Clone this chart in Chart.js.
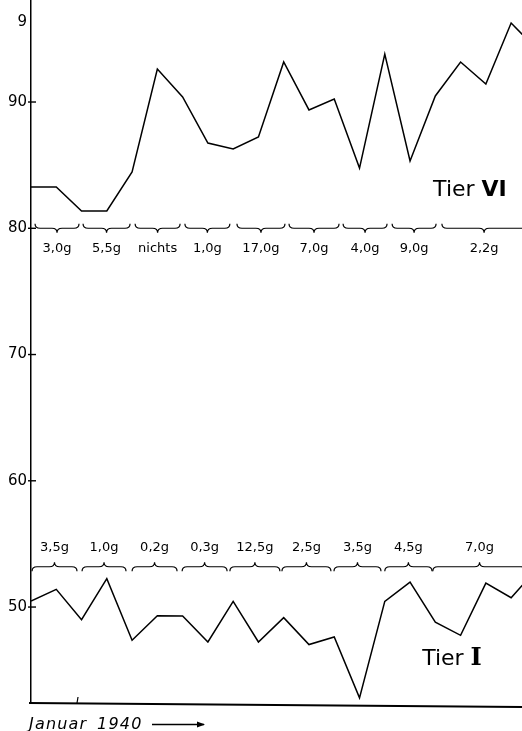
<!DOCTYPE html>
<html>
<head>
<meta charset="utf-8">
<script src="https://cdn.jsdelivr.net/npm/chart.js@4/dist/chart.umd.min.js"></script>
<style>
html,body{margin:0;padding:0;background:#fff;}
canvas{display:block;}
</style>
</head>
<body>
<canvas id="c" width="522" height="731"></canvas>
<script>
// ---- data ----
const days = [0,1,2,3,4,5,6,7,8,9,10,11,12,13,14,15,16,17,18,19,20];
const tierVI = [83.27,83.27,81.37,81.37,84.46,92.61,90.40,86.75,86.28,87.23,93.17,89.37,90.24,84.77,93.80,85.33,90.48,93.17,91.43,96.26,94.2];
const tierI  = [50.47,51.40,49.00,52.25,47.37,49.32,49.29,47.23,50.45,47.23,49.16,47.03,47.63,42.81,50.45,51.98,48.81,47.76,51.90,50.74,52.98];

const tickValues = [50,60,70,80,90,96.34];
const tickLabels = ['50','60','70','80','90','9'];
const tickMarks  = [50,60,70,80,90];

// feeding periods (x from, x to) and amounts
const dosesVIStart = [0.16,2.06,4.12,6.09,8.15,10.21,12.35,14.29,16.26];
const dosesVIEnd   = [1.90,3.92,5.90,7.87,10.05,12.19,14.09,16.03,19.6];
const dosesVILabel = ['3,0g','5,5g','nichts','1,0g','17,0g','7,0g','4,0g','9,0g','2,2g'];
const dosesIStart  = [0.04,2.02,4.00,5.98,7.87,9.93,11.99,14.00,15.90];
const dosesIEnd    = [1.82,3.76,5.78,7.76,9.85,11.87,13.85,15.87,19.6];
const dosesILabel  = ['3,5g','1,0g','0,2g','0,3g','12,5g','2,5g','3,5g','4,5g','7,0g'];

const seriesNames = ['Tier VI','Tier I'];
const xAxisLabel = ['Januar','1940'];

// ---- layout (in data units) ----
const braceVI = {y: 80.0, labelY: 78.4, dir: 1};   // tip pointing down
const braceI  = {y: 53.19, labelY: 54.67, dir: -1}; // tip pointing up
const nameVIPos = {x: 17.37, y: 83.03};
const nameIPos  = {x: 16.66, y: 45.88};
const xTickMark = 1.86;

function brace(ctx, x0, x1, y, dir){
  const r = 5, h = 4.5;
  const xc = (x0 + x1) / 2;
  ctx.beginPath();
  ctx.moveTo(x0, y - dir*h);
  ctx.quadraticCurveTo(x0, y, x0 + r, y);
  ctx.lineTo(xc - r, y);
  ctx.quadraticCurveTo(xc, y, xc, y + dir*h);
  ctx.quadraticCurveTo(xc, y, xc + r, y);
  ctx.lineTo(x1 - r, y);
  ctx.quadraticCurveTo(x1, y, x1, y - dir*h);
  ctx.stroke();
}

const decor = {
  id: 'decor',
  afterDraw(chart){
    const ctx = chart.ctx;
    const xs = chart.scales.x, ys = chart.scales.y;
    const area = chart.chartArea;
    ctx.save();
    ctx.strokeStyle = '#000';
    ctx.fillStyle = '#000';
    ctx.lineWidth = 1.4;
    // y tick marks crossing the axis
    tickMarks.forEach(v => {
      const py = ys.getPixelForValue(v);
      ctx.beginPath();
      ctx.moveTo(area.left - 3, py);
      ctx.lineTo(area.left + 5, py);
      ctx.stroke();
    });
    // bottom axis
    ctx.lineWidth = 1.8;
    ctx.beginPath();
    ctx.moveTo(area.left - 2, area.bottom);
    ctx.lineTo(area.right, area.bottom + 4);
    ctx.stroke();
    ctx.lineWidth = 1.2;
    const tx = xs.getPixelForValue(xTickMark);
    ctx.beginPath();
    ctx.moveTo(tx - 1, area.bottom);
    ctx.lineTo(tx, area.bottom - 6);
    ctx.stroke();
    // braces + labels
    ctx.lineWidth = 1.2;
    ctx.font = '13px "DejaVu Sans"';
    ctx.textAlign = 'center';
    ctx.textBaseline = 'middle';
    const drawSet = (starts, ends, labels, b) => {
      const py = ys.getPixelForValue(b.y);
      const ly = ys.getPixelForValue(b.labelY);
      starts.forEach((s, i) => {
        const x0 = xs.getPixelForValue(s), x1 = xs.getPixelForValue(ends[i]);
        brace(ctx, x0, x1, py, b.dir);
        ctx.fillText(labels[i], (x0 + x1) / 2, ly);
      });
    };
    drawSet(dosesVIStart, dosesVIEnd, dosesVILabel, braceVI);
    drawSet(dosesIStart, dosesIEnd, dosesILabel, braceI);

    // series names
    ctx.textBaseline = 'middle';
    ctx.textAlign = 'left';
    const drawName = (name, pos, boldFont) => {
      const parts = name.split(' ');
      const px = xs.getPixelForValue(pos.x), py = ys.getPixelForValue(pos.y);
      ctx.font = '22px "DejaVu Sans"';
      const w1 = ctx.measureText(parts[0] + ' ').width;
      ctx.font = boldFont;
      const w2 = ctx.measureText(parts[1]).width;
      const start = px - (w1 + w2) / 2;
      ctx.font = '22px "DejaVu Sans"';
      ctx.fillText(parts[0] + ' ', start, py);
      ctx.font = boldFont;
      ctx.fillText(parts[1], start + w1, py);
    };
    drawName(seriesNames[0], nameVIPos, 'bold 22px "DejaVu Sans"');
    drawName(seriesNames[1], nameIPos, 'bold 24px "DejaVu Serif"');

    // x axis caption with arrow
    ctx.font = 'italic 16px "DejaVu Sans"';
    ctx.textAlign = 'left';
    ctx.textBaseline = 'alphabetic';
    try { ctx.letterSpacing = '1.2px'; } catch(e) {}
    ctx.fillText(xAxisLabel[0], 29, 729);
    ctx.fillText(xAxisLabel[1], 97, 729);
    try { ctx.letterSpacing = '0px'; } catch(e) {}
    ctx.lineWidth = 1.3;
    ctx.beginPath();
    ctx.moveTo(152, 724.5);
    ctx.lineTo(204, 724.5);
    ctx.stroke();
    ctx.beginPath();
    ctx.moveTo(205, 724.5);
    ctx.lineTo(197, 721.5);
    ctx.lineTo(197, 727.5);
    ctx.closePath();
    ctx.fill();
    ctx.restore();
  }
};

new Chart(document.getElementById('c'), {
  type: 'line',
  data: {
    datasets: [
      {label: seriesNames[0], data: days.map((d, i) => ({x: d, y: tierVI[i]})),
       borderColor: '#000', borderWidth: 1.5, pointRadius: 0, tension: 0, fill: false},
      {label: seriesNames[1], data: days.map((d, i) => ({x: d, y: tierI[i]})),
       borderColor: '#000', borderWidth: 1.5, pointRadius: 0, tension: 0, fill: false}
    ]
  },
  options: {
    responsive: false,
    animation: false,
    layout: {padding: {top: 0, right: 0, bottom: 28, left: 0}},
    scales: {
      x: {type: 'linear', min: 0, max: 19.43, display: false},
      y: {
        min: 42.4, max: 98.08,
        afterBuildTicks: s => { s.ticks = tickValues.map(v => ({value: v})); },
        afterFit: s => { s.width = 31; s.paddingTop = 0; s.paddingBottom = 0; },
        grid: {display: false, drawTicks: false, tickLength: 0},
        border: {display: true, color: '#000', width: 1.5},
        ticks: {
          padding: 4,
          color: '#000',
          font: {family: '"DejaVu Sans"', size: 15},
          callback: v => { const k = tickValues.indexOf(v); return k >= 0 ? tickLabels[k] : ''; }
        }
      }
    },
    plugins: {legend: {display: false}, tooltip: {enabled: false}, title: {display: false}}
  },
  plugins: [decor]
});
</script>
</body>
</html>
